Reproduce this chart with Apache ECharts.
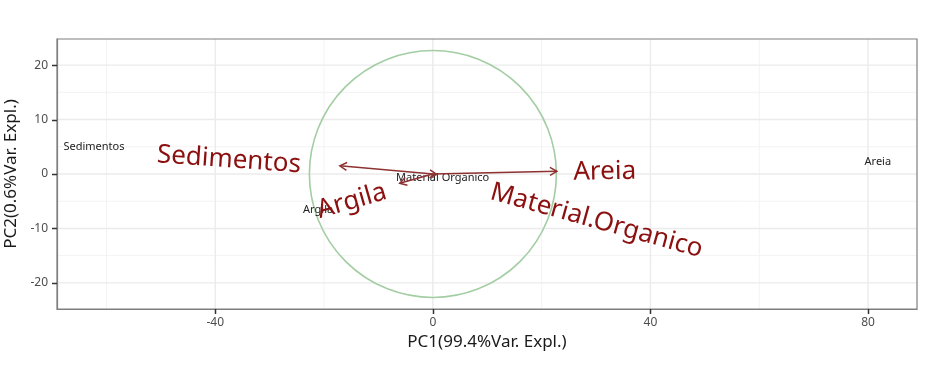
<!DOCTYPE html>
<html>
<head>
<meta charset="utf-8">
<script src="https://cdn.jsdelivr.net/npm/echarts@6/dist/echarts.min.js"></script>
<style>html,body{margin:0;padding:0;background:#fff}#c{width:935px;height:369px}</style>
</head>
<body>
<div id="c"></div>
<script>
// ---- data ----
var xTicks = [-40, 0, 40, 80];
var xMinor = [-60, -20, 20, 60];
var yTicks = [-20, -10, 0, 10, 20];
var yMinor = [-15, -5, 5, 15];
var xRange = [-69.1, 89.0];
var yRange = [-24.8, 24.8];

// observation scores (PC1, PC2)
var obsNames = ['Sedimentos', 'Areia', 'Argila', 'Material Organico'];
var obsPC1 = [-62.3, 81.8, -21.1, 1.8];
var obsPC2 = [4.95, 2.2, -6.6, -0.7];

// variable loadings (arrow tips)
var varNames = ['Sedimentos', 'Areia', 'Argila', 'Material.Organico'];
var varPC1 = [-17.1, 22.8, -6.1, 0.7];
var varPC2 = [1.5, 0.5, -1.7, -0.05];

// variable label positions and angles
var varLabX = [-37.5, 31.6, -14.9, 30.1];
var varLabY = [2.6, 0.4, -5.0, -8.6];
var varLabAngle = [-4, 1, 16, -15.5];

// correlation circle radius
var circleRadius = [22.7];

var FONT = '"Noto Sans", "Open Sans", sans-serif';

var chart = echarts.init(document.getElementById('c'), null, {renderer: 'canvas'});

var obsData = obsNames.map(function (n, i) { return [obsPC1[i], obsPC2[i], n]; });
var arrowData = varNames.map(function (n, i) { return [varPC1[i], varPC2[i]]; });
var varLabData = varNames.map(function (n, i) { return [varLabX[i], varLabY[i], varLabAngle[i], n]; });

function gridRender(params, api) {
  var cs = params.coordSys;
  var children = [];
  function vline(v, col, w) {
    var p = api.coord([v, 0]);
    children.push({type: 'line', shape: {x1: p[0], y1: cs.y, x2: p[0], y2: cs.y + cs.height},
      style: {stroke: col, lineWidth: w}, silent: true});
  }
  function hline(v, col, w) {
    var p = api.coord([0, v]);
    children.push({type: 'line', shape: {x1: cs.x, y1: p[1], x2: cs.x + cs.width, y2: p[1]},
      style: {stroke: col, lineWidth: w}, silent: true});
  }
  xMinor.forEach(function (v) { vline(v, '#f3f3f3', 1); });
  yMinor.forEach(function (v) { hline(v, '#f3f3f3', 1); });
  xTicks.forEach(function (v) { vline(v, '#ebebeb', 1.4); });
  yTicks.forEach(function (v) { hline(v, '#ebebeb', 1.4); });
  return {type: 'group', children: children};
}

function circleRender(params, api) {
  var c = api.coord([0, 0]);
  var r = api.size([api.value(0), 0])[0];
  return {type: 'circle', shape: {cx: c[0], cy: c[1], r: r},
    style: {fill: 'none', stroke: '#a3cda3', lineWidth: 1.6}, silent: true};
}

function arrowRender(params, api) {
  var o = api.coord([0, 0]);
  var t = api.coord([api.value(0), api.value(1)]);
  var ang = Math.atan2(t[1] - o[1], t[0] - o[0]);
  var L = 8, a = Math.PI / 6;
  var p1 = [t[0] - L * Math.cos(ang - a), t[1] - L * Math.sin(ang - a)];
  var p2 = [t[0] - L * Math.cos(ang + a), t[1] - L * Math.sin(ang + a)];
  var st = {stroke: '#8e3131', lineWidth: 1.5, fill: 'none'};
  return {type: 'group', children: [
    {type: 'line', shape: {x1: o[0], y1: o[1], x2: t[0], y2: t[1]}, style: st},
    {type: 'polyline', shape: {points: [p1, t, p2]}, style: st}
  ]};
}

function varLabRender(params, api) {
  var p = api.coord([api.value(0), api.value(1)]);
  var name = varNames[params.dataIndex];
  return {type: 'text', x: p[0], y: p[1], rotation: api.value(2) * Math.PI / 180,
    style: {text: name, fill: '#8b1010', font: '26px ' + FONT, align: 'center', verticalAlign: 'middle'}};
}

function obsRender(params, api) {
  var p = api.coord([api.value(0), api.value(1)]);
  return {type: 'text', x: p[0], y: p[1],
    style: {text: obsNames[params.dataIndex], fill: '#222', font: '11px ' + FONT, align: 'center', verticalAlign: 'middle'}};
}

chart.setOption({
  animation: false,
  backgroundColor: '#fff',
  grid: {left: 57, right: 18, top: 39, bottom: 60, show: true, borderColor: '#7f7f7f', borderWidth: 1.2,
    backgroundColor: 'transparent', z: 10, containLabel: false, outerBoundsMode: 'none'},
  xAxis: {
    type: 'value', min: xRange[0], max: xRange[1],
    name: 'PC1(99.4%Var. Expl.)', nameLocation: 'middle', nameGap: 22,
    nameTextStyle: {fontFamily: FONT, fontSize: 17, color: '#1a1a1a'},
    axisLine: {show: true, onZero: false, lineStyle: {color: '#7f7f7f', width: 1.2}},
    axisTick: {show: false},
    axisLabel: {fontFamily: FONT, fontSize: 12, color: '#4d4d4d', margin: 8, customValues: xTicks},
    splitLine: {show: false}
  },
  yAxis: {
    type: 'value', min: yRange[0], max: yRange[1],
    name: 'PC2(0.6%Var. Expl.)', nameLocation: 'middle', nameGap: 32, nameRotate: 90,
    nameTextStyle: {fontFamily: FONT, fontSize: 17, color: '#1a1a1a'},
    axisLine: {show: true, onZero: false, lineStyle: {color: '#7f7f7f', width: 1.2}},
    axisTick: {show: false},
    axisLabel: {fontFamily: FONT, fontSize: 12, color: '#4d4d4d', margin: 9, customValues: yTicks},
    splitLine: {show: false}
  },
  series: [
    {type: 'custom', renderItem: gridRender, data: [[0, 0]], z: 0, silent: true, clip: true},
    {type: 'custom', renderItem: circleRender, data: [circleRadius], z: 1, silent: true},
    {type: 'custom', renderItem: obsRender, data: obsData, z: 2, silent: true},
    {type: 'custom', renderItem: arrowRender, data: arrowData, z: 3, silent: true},
    {type: 'custom', renderItem: varLabRender, data: varLabData, z: 4, silent: true}
  ]
});

// axis ticks placed through the library's own scales
var x0 = chart.convertToPixel({gridIndex: 0}, [xRange[0], yRange[0]]);
var bottom = x0[1], left = x0[0];
var tickEls = [];
xTicks.forEach(function (v) {
  var px = Math.round(chart.convertToPixel({gridIndex: 0}, [v, 0])[0]) + 0.5;
  tickEls.push({type: 'rect', shape: {x: px - 0.75, y: bottom, width: 1.5, height: 5},
    style: {fill: '#333'}, z: 100, silent: true});
});
yTicks.forEach(function (v) {
  var py = Math.round(chart.convertToPixel({gridIndex: 0}, [0, v])[1]) + 0.5;
  tickEls.push({type: 'rect', shape: {x: left - 5, y: py - 0.75, width: 5, height: 1.5},
    style: {fill: '#333'}, z: 100, silent: true});
});
chart.setOption({graphic: tickEls});
</script>
</body>
</html>
